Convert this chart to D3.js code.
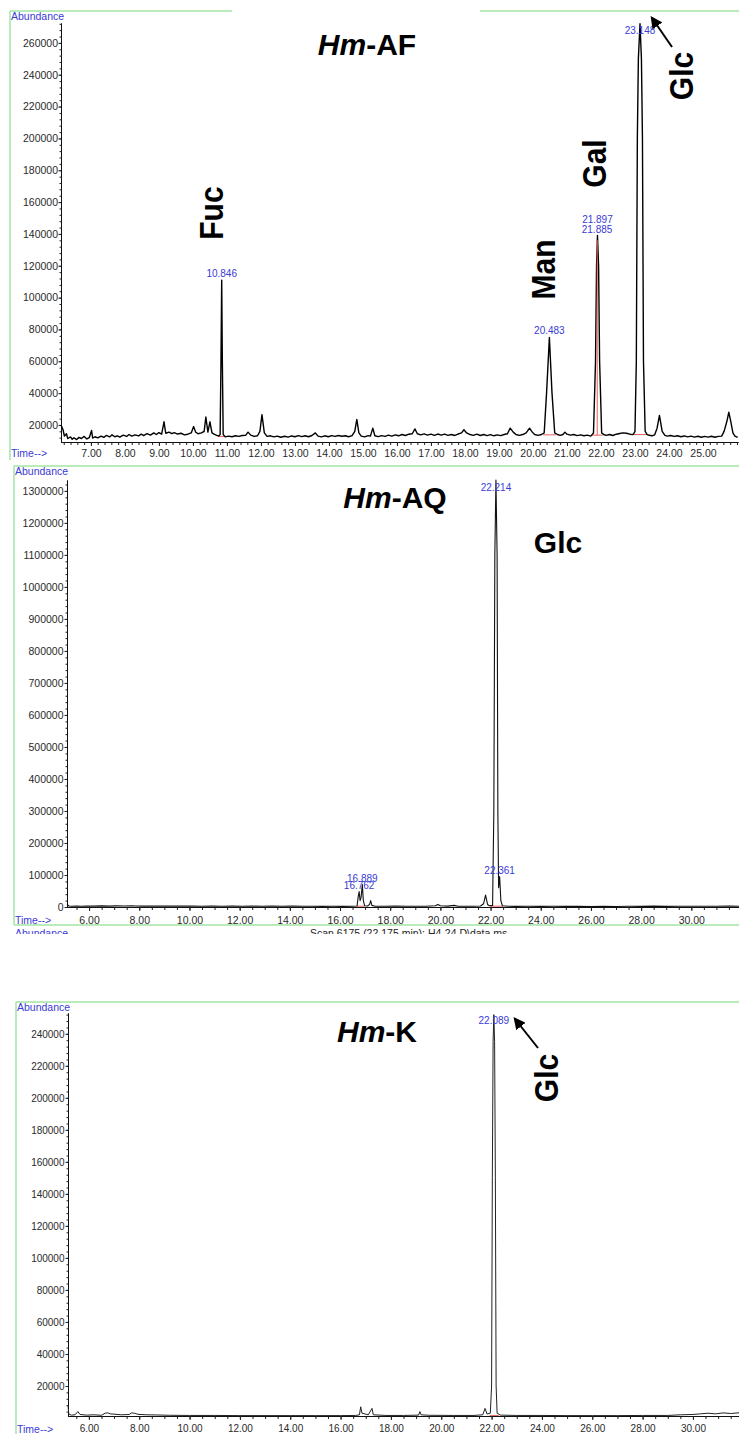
<!DOCTYPE html>
<html lang="en">
<head>
<meta charset="UTF-8">
<title>GC-MS chromatograms Hm-AF / Hm-AQ / Hm-K</title>
<script src="https://cdn.jsdelivr.net/npm/d3@7/dist/d3.min.js"></script>
<style>
  body { margin: 0; background: #fff; }
  svg { display: block; font-family: "Liberation Sans", Arial, sans-serif; }
</style>
</head>
<body>
<script>
// abundance values are in thousands of counts, time in minutes

// ---- Hm-AF ----
var afTrace = [
  [6.12, 20], [6.18, 17], [6.22, 13], [6.28, 14.5], [6.32, 11.5], [6.4, 12.5], [6.45, 11], [6.5, 12],
  [6.58, 10.8], [6.65, 12.2], [6.72, 11.5], [6.8, 12.8], [6.88, 11.2], [6.95, 12], [7.02, 16.5], [7.05, 11.8],
  [7.12, 12.6], [7.2, 11.9], [7.3, 13], [7.38, 12.2], [7.45, 13.4], [7.55, 12.5], [7.62, 13.8], [7.7, 12.6],
  [7.78, 13.2], [7.85, 12.4], [7.95, 13.6], [8.05, 12.8], [8.12, 14], [8.2, 13], [8.3, 13.8], [8.4, 13.1],
  [8.48, 14.2], [8.55, 13.3], [8.65, 14.5], [8.75, 13.6], [8.85, 15], [8.92, 14], [9.0, 15.2], [9.08, 14.2],
  [9.15, 22], [9.2, 14.8], [9.3, 15.5], [9.38, 14.5], [9.45, 15.2], [9.55, 14.3], [9.65, 14.8], [9.75, 13.8],
  [9.85, 14.2], [9.95, 15], [10.02, 19], [10.08, 15.5], [10.15, 14.5], [10.25, 15], [10.33, 16], [10.38, 25],
  [10.44, 15.5], [10.5, 22], [10.56, 15], [10.62, 14.2], [10.7, 13.5], [10.76, 13], [10.8, 14], [10.825, 60],
  [10.846, 111], [10.865, 60], [10.89, 14], [10.95, 12.5], [11.05, 13], [11.15, 12.6], [11.25, 13.2], [11.35, 12.8],
  [11.45, 13.4], [11.55, 13.5], [11.62, 15.5], [11.7, 13.6], [11.8, 12.8], [11.9, 13.2], [11.97, 16], [12.03, 26.5],
  [12.1, 15], [12.18, 12.8], [12.28, 13.2], [12.38, 12.5], [12.48, 13], [12.58, 12.3], [12.7, 12.9], [12.8, 12.4],
  [12.9, 13.1], [13.0, 12.6], [13.1, 13.3], [13.2, 12.7], [13.3, 13.2], [13.4, 12.6], [13.5, 13.4], [13.6, 15],
  [13.68, 13], [13.78, 12.5], [13.88, 13.2], [13.98, 12.6], [14.08, 13.3], [14.18, 12.8], [14.28, 13.4], [14.38, 12.9],
  [14.48, 13.2], [14.58, 12.6], [14.68, 13.3], [14.76, 16], [14.82, 23.5], [14.88, 15], [14.95, 13], [15.05, 12.5],
  [15.15, 13.3], [15.22, 13], [15.29, 18], [15.35, 13.2], [15.45, 12.7], [15.55, 13.3], [15.65, 12.8], [15.75, 13.6],
  [15.85, 13], [15.95, 13.8], [16.05, 13.2], [16.15, 14], [16.25, 13.4], [16.35, 14.2], [16.45, 14.5], [16.53, 17.5],
  [16.6, 14.5], [16.7, 13.8], [16.8, 14.4], [16.9, 13.6], [17.0, 14.2], [17.1, 13.5], [17.2, 14.3], [17.3, 13.6],
  [17.4, 14.2], [17.5, 13.5], [17.6, 14], [17.7, 13.4], [17.8, 14.3], [17.9, 15], [17.97, 17], [18.05, 15],
  [18.15, 14], [18.25, 13.5], [18.35, 14.2], [18.45, 13.4], [18.55, 14], [18.65, 13.3], [18.75, 13.9], [18.85, 13.2],
  [18.95, 13.8], [19.05, 13.3], [19.15, 14], [19.25, 14.5], [19.33, 18], [19.42, 15.5], [19.5, 14], [19.6, 13.5],
  [19.7, 14], [19.8, 15], [19.9, 18], [19.98, 15.5], [20.05, 14], [20.15, 13.5], [20.25, 14], [20.33, 15],
  [20.4, 40], [20.483, 75], [20.56, 40], [20.64, 15], [20.72, 14], [20.8, 13.5], [20.88, 14], [20.94, 15.5],
  [21.0, 14.2], [21.1, 13.6], [21.2, 14], [21.3, 13.3], [21.4, 13.8], [21.5, 13.2], [21.6, 13.6], [21.7, 13],
  [21.78, 15], [21.84, 60], [21.87, 120], [21.897, 139], [21.93, 120], [21.96, 60], [22.02, 15], [22.08, 14],
  [22.15, 13.5], [22.25, 14], [22.35, 13.4], [22.45, 14.2], [22.55, 14.6], [22.65, 15], [22.75, 14.8], [22.85, 14.2],
  [22.95, 14], [23.0, 16], [23.04, 60], [23.07, 200], [23.1, 250], [23.148, 272], [23.19, 250], [23.22, 200],
  [23.25, 60], [23.3, 16], [23.36, 14], [23.42, 13.5], [23.5, 13.2], [23.58, 13.8], [23.65, 18], [23.72, 26],
  [23.8, 16], [23.88, 13.5], [23.95, 13], [24.05, 13.4], [24.15, 12.8], [24.25, 13.2], [24.35, 12.6], [24.45, 13.1],
  [24.55, 12.5], [24.65, 13], [24.75, 12.4], [24.85, 12.9], [24.95, 12.3], [25.05, 12.8], [25.15, 12.4], [25.25, 12.9],
  [25.35, 12.3], [25.45, 12.8], [25.55, 13], [25.62, 16], [25.7, 22], [25.76, 28], [25.82, 22], [25.88, 15],
  [25.94, 13], [26.02, 12.2]
];
var afPeakRT = [10.846, 20.483, 21.885, 21.897, 23.148];
var afPeakTop = [111, 75, 139, 139, 272];
var afIntegr = [[10.74, 10.95, 12.8], [20.3, 20.68, 13.8], [21.74, 22.05, 13.6], [22.97, 23.36, 14]];
var afXTicks = [7, 8, 9, 10, 11, 12, 13, 14, 15, 16, 17, 18, 19, 20, 21, 22, 23, 24, 25];
var afYTicks = [20000, 40000, 60000, 80000, 100000, 120000, 140000, 160000, 180000, 200000, 220000, 240000, 260000];

// ---- Hm-AQ ----
var aqTrace = [
  [5.12, 8], [5.2, 3], [5.3, 2.5], [5.5, 3.2], [5.7, 2.4], [5.9, 3], [6.2, 2.6], [6.5, 3.4], [6.8, 2.8],
  [7.1, 3.5], [7.4, 2.9], [7.7, 4], [7.85, 3.2], [8.1, 2.8], [8.5, 3.3], [8.9, 2.7], [9.3, 3.1], [9.7, 2.6],
  [10.1, 3], [10.5, 2.5], [10.9, 2.9], [11.3, 2.4], [11.7, 2.8], [12.1, 2.3], [12.5, 2.7], [12.9, 2.3],
  [13.3, 2.6], [13.7, 2.2], [14.1, 2.6], [14.5, 2.2], [14.9, 2.5], [15.3, 2.1], [15.7, 2.4], [16.1, 2.1],
  [16.5, 2.4], [16.68, 3], [16.72, 30], [16.762, 48], [16.8, 20], [16.84, 30], [16.889, 70], [16.93, 20],
  [16.98, 4], [17.1, 3], [17.18, 8], [17.22, 20], [17.27, 5], [17.4, 2.5], [17.8, 2.2], [18.2, 2.6],
  [18.6, 2.2], [19.0, 2.5], [19.4, 2.3], [19.8, 4], [19.9, 8], [20.0, 4], [20.3, 2.6], [20.55, 5], [20.7, 2.5],
  [21.0, 2.2], [21.3, 2.5], [21.6, 3], [21.72, 10], [21.8, 37], [21.88, 8], [21.95, 4], [22.08, 5],
  [22.13, 300], [22.17, 1100], [22.214, 1334], [22.26, 1100], [22.29, 300], [22.32, 60], [22.361, 95],
  [22.41, 20], [22.47, 4], [22.7, 2.5], [23.0, 2], [23.5, 2.3], [24, 1.8], [24.5, 2.2], [25, 1.8], [25.5, 2.1],
  [26, 1.7], [26.5, 2.1], [27, 1.7], [27.5, 2.2], [28, 1.9], [28.5, 2.6], [29, 2.1], [29.5, 2.5], [30, 2.2],
  [30.5, 2.5], [31, 2.2], [31.5, 2.6], [31.9, 2.3]
];
var aqPeakRT = [16.762, 16.889, 22.214, 22.361];
var aqPeakTop = [48, 70, 1334, 95];
var aqIntegr = [[16.66, 16.98, 2.5], [21.98, 22.5, 2.5]];
var aqXTicks = [6, 8, 10, 12, 14, 16, 18, 20, 22, 24, 26, 28, 30];
var aqYTicks = [0, 100000, 200000, 300000, 400000, 500000, 600000, 700000, 800000, 900000, 1000000, 1100000, 1200000, 1300000];

// ---- Hm-K ----
var kTrace = [
  [5.17, 8], [5.2, 2.5], [5.3, 1.8], [5.45, 2], [5.56, 4], [5.65, 2.2], [5.9, 1.8], [6.2, 2], [6.5, 1.7],
  [6.65, 3], [6.75, 3.2], [6.85, 2.6], [7.0, 2.4], [7.3, 2], [7.6, 2.2], [7.7, 3.2], [7.8, 3], [7.95, 2.3],
  [8.3, 2], [8.7, 1.9], [9.2, 1.7], [10, 1.6], [11, 1.6], [12, 1.5], [13, 1.5], [14, 1.5], [15, 1.5],
  [16, 1.5], [16.6, 1.6], [16.75, 2], [16.8, 7], [16.85, 3], [17.1, 2], [17.25, 6], [17.3, 2], [17.8, 1.6],
  [18.5, 1.6], [19.1, 1.8], [19.15, 4], [19.2, 2], [19.5, 1.7], [20.5, 1.6], [21.3, 1.6], [21.65, 2],
  [21.74, 6], [21.82, 2.5], [21.95, 3], [22.0, 20], [22.03, 150], [22.06, 235], [22.089, 252], [22.12, 235],
  [22.15, 150], [22.18, 20], [22.22, 3], [22.35, 1.8], [23, 1.6], [24, 1.6], [25, 1.5], [26, 1.5], [27, 1.5],
  [28, 1.6], [29, 1.6], [29.5, 2], [30, 2.2], [30.3, 2.6], [30.6, 3], [30.9, 2.6], [31.2, 3.2], [31.5, 2.8],
  [31.87, 3.3]
];
var kPeakRT = [22.089];
var kPeakTop = [252];
var kIntegr = [[21.92, 22.28, 1.6]];
var kXTicks = [6, 8, 10, 12, 14, 16, 18, 20, 22, 24, 26, 28, 30];
var kYTicks = [20000, 40000, 60000, 80000, 100000, 120000, 140000, 160000, 180000, 200000, 220000, 240000];

var W = 739, H = 1434;
var green = '#a3e4a3', blue = '#3a3ad6';

var svg = d3.select('body').append('svg')
    .attr('width', W)
    .attr('height', H);

var defs = svg.append('defs');
defs.append('marker')
    .attr('id', 'arrow')
    .attr('viewBox', '0 0 10 10')
    .attr('refX', 8).attr('refY', 5)
    .attr('markerWidth', 12).attr('markerHeight', 12)
    .attr('markerUnits', 'userSpaceOnUse')
    .attr('orient', 'auto')
    .append('path')
    .attr('d', 'M0,0 L10,5 L0,10 z')
    .attr('fill', '#000');

function drawPanel(p) {
    var g = svg.append('g');
    var x = d3.scaleLinear().domain(p.xDomain).range([p.left, p.right]);
    var y = d3.scaleLinear().domain(p.yDomain).range([p.bottom, p.top]);

    // green frame
    g.append('line').attr('x1', p.fx).attr('x2', p.fx).attr('y1', p.ftop).attr('y2', p.fbottom)
        .attr('stroke', green).attr('stroke-width', 1.5);
    g.append('line').attr('x1', p.fx).attr('x2', W).attr('y1', p.ftop).attr('y2', p.ftop)
        .attr('stroke', green).attr('stroke-width', 1.5);
    if (p.fclose) {
        g.append('line').attr('x1', p.fx).attr('x2', W).attr('y1', p.fbottom).attr('y2', p.fbottom)
            .attr('stroke', green).attr('stroke-width', 1.5);
    }

    // x axis: minor then major ticks
    var xMinor = d3.range(Math.ceil(p.xDomain[0] / p.xMinor) * p.xMinor, p.xDomain[1], p.xMinor);
    g.append('g')
        .attr('transform', 'translate(0,' + p.bottom + ')')
        .call(d3.axisBottom(x).tickValues(xMinor).tickSize(3).tickSizeOuter(0).tickFormat(''));
    var xAx = g.append('g')
        .attr('transform', 'translate(0,' + p.bottom + ')')
        .call(d3.axisBottom(x).tickValues(p.xTicks).tickSize(4).tickSizeOuter(0)
            .tickPadding(p.xPad).tickFormat(d3.format('.2f')));

    // y axis
    var yMinor = d3.range(Math.ceil(p.yDomain[0] / p.yMinor) * p.yMinor, p.yDomain[1], p.yMinor);
    g.append('g')
        .attr('transform', 'translate(' + p.left + ',0)')
        .call(d3.axisLeft(y).tickValues(yMinor).tickSize(1.5).tickSizeOuter(0).tickFormat(''));
    var yAx = g.append('g')
        .attr('transform', 'translate(' + p.left + ',0)')
        .call(d3.axisLeft(y).tickValues(p.yTicks).tickSize(2.5).tickSizeOuter(0)
            .tickPadding(p.yPad).tickFormat(d3.format('d')));

    g.selectAll('.domain').attr('stroke', '#111');
    g.selectAll('.tick line').attr('stroke', '#222');
    [xAx, yAx].forEach(function (a) {
        a.selectAll('text')
            .attr('fill', '#2a2a2a')
            .style('font-family', '"Liberation Sans", Arial, sans-serif')
            .style('font-size', p.fontSize + 'px');
    });

    g.append('text').text('Abundance')
        .attr('x', p.fx + 1).attr('y', p.ftop + 9)
        .attr('fill', blue).style('font-size', '10.5px');
    g.append('text').text('Time-->')
        .attr('x', p.fx + 1).attr('y', p.timeY)
        .attr('fill', blue).style('font-size', '10.5px');

    // integration baselines (red)
    g.selectAll('.integ')
        .data(p.integr)
        .enter().append('line')
        .attr('x1', function (d) { return x(d[0]); })
        .attr('x2', function (d) { return x(d[1]); })
        .attr('y1', function (d) { return y(d[2] * 1000); })
        .attr('y2', function (d) { return y(d[2] * 1000); })
        .attr('stroke', '#e8605a').attr('stroke-width', 1);

    // trace
    var line = d3.line()
        .x(function (d) { return x(d[0]); })
        .y(function (d) { return y(d[1] * 1000); });
    g.append('path')
        .datum(p.trace)
        .attr('d', line)
        .attr('fill', 'none')
        .attr('stroke', p.lineColor)
        .attr('stroke-width', p.lineWidth)
        .attr('stroke-linejoin', 'round');

    // peak retention time labels
    var prev = null, stack = 0;
    p.peakRT.forEach(function (rt, i) {
        stack = (prev !== null && rt - prev < 0.05) ? stack + 1 : 0;
        prev = rt;
        var ty = Math.max(y(p.peakTop[i] * 1000) - 3, p.top + 11) - stack * 10;
        g.append('text')
            .text(d3.format('.3f')(rt))
            .attr('x', x(rt)).attr('y', ty)
            .attr('text-anchor', 'middle')
            .attr('fill', blue)
            .style('font-size', '10px');
    });

    return {g: g, x: x, y: y};
}

function title(g, cx, by, rest) {
    var t = g.append('text')
        .attr('x', cx).attr('y', by)
        .attr('text-anchor', 'middle')
        .style('font-size', '30px').style('font-weight', 'bold');
    t.append('tspan').text('Hm').style('font-style', 'italic');
    t.append('tspan').text(rest);
}

function sugar(g, txt, bx, cy, vertical) {
    var t = g.append('text').text(txt)
        .attr('text-anchor', 'middle')
        .style('font-size', '30px').style('font-weight', 'bold');
    if (vertical) {
        t.attr('transform', 'translate(' + bx + ',' + cy + ') rotate(-90) scale(1,1.12)');
    } else {
        t.attr('x', bx).attr('y', cy);
    }
}

function arrow(g, x1, y1, x2, y2) {
    g.append('line')
        .attr('x1', x1).attr('y1', y1).attr('x2', x2).attr('y2', y2)
        .attr('stroke', '#000').attr('stroke-width', 2)
        .attr('marker-end', 'url(#arrow)');
}

// panel 1
var p1 = drawPanel({
    trace: afTrace, peakRT: afPeakRT, peakTop: afPeakTop, integr: afIntegr,
    xTicks: afXTicks, yTicks: afYTicks, xMinor: 0.2, yMinor: 4000,
    xDomain: [6.12, 26.03], yDomain: [9300, 272500],
    left: 61, right: 738, top: 23, bottom: 442,
    fx: 10, ftop: 11, fbottom: 460, fclose: false,
    xPad: 3.5, yPad: 0.5, fontSize: 10.5, timeY: 457,
    lineColor: '#000', lineWidth: 1.4
});
// gap in the top border behind the title
p1.g.insert('rect', ':nth-child(3)')
    .attr('x', 232).attr('y', 5).attr('width', 248).attr('height', 12).attr('fill', '#fff');
// split line between the two Gal peaks
p1.g.append('line')
    .attr('x1', p1.x(21.89)).attr('x2', p1.x(21.89))
    .attr('y1', p1.y(13600)).attr('y2', p1.y(136000))
    .attr('stroke', '#e8605a').attr('stroke-width', 1);
title(p1.g, 367, 55, '-AF');
sugar(p1.g, 'Fuc', p1.x(10.846) + 1.5, p1.y(111000) - 67, true);
sugar(p1.g, 'Man', p1.x(20.483) + 6, p1.y(75000) - 68, true);
sugar(p1.g, 'Gal', p1.x(21.897) + 9, p1.y(139000) - 72, true);
sugar(p1.g, 'Glc', p1.x(23.148) + 53, 76, true);
arrow(p1.g, 672, 47, 652, 18);

// panel 2
var p2 = drawPanel({
    trace: aqTrace, peakRT: aqPeakRT, peakTop: aqPeakTop, integr: aqIntegr,
    xTicks: aqXTicks, yTicks: aqYTicks, xMinor: 0.5, yMinor: 20000,
    xDomain: [5.12, 31.9], yDomain: [0, 1334000],
    left: 67, right: 739, top: 480, bottom: 907,
    fx: 14, ftop: 466, fbottom: 925, fclose: true,
    xPad: 5.5, yPad: 1, fontSize: 10.5, timeY: 924,
    lineColor: '#111', lineWidth: 1.1
});
title(p2.g, 395, 508, '-AQ');
sugar(p2.g, 'Glc', 558, 553, false);
// cut-off header of the next instrument page
p2.g.append('text').text('Abundance')
    .attr('x', 15).attr('y', 937).attr('fill', blue).style('font-size', '10.5px');
p2.g.append('text').text('Scan 6175 (22.175 min): H4-24 D\\data.ms')
    .attr('x', 310).attr('y', 937).attr('fill', '#222').style('font-size', '10.5px');
p2.g.append('rect').attr('x', 0).attr('y', 934).attr('width', W).attr('height', 60).attr('fill', '#fff');

// panel 3
var p3 = drawPanel({
    trace: kTrace, peakRT: kPeakRT, peakTop: kPeakTop, integr: kIntegr,
    xTicks: kXTicks, yTicks: kYTicks, xMinor: 0.5, yMinor: 4000,
    xDomain: [5.17, 31.87], yDomain: [1250, 253000],
    left: 68, right: 740, top: 1013, bottom: 1416,
    fx: 16, ftop: 1002, fbottom: H, fclose: false,
    xPad: 5, yPad: 1, fontSize: 10, timeY: 1433,
    lineColor: '#222', lineWidth: 1
});
title(p3.g, 377, 1042, '-K');
sugar(p3.g, 'Glc', p3.x(22.089) + 64, 1078, true);
arrow(p3.g, 538, 1048, 515, 1019);
</script>
</body>
</html>
